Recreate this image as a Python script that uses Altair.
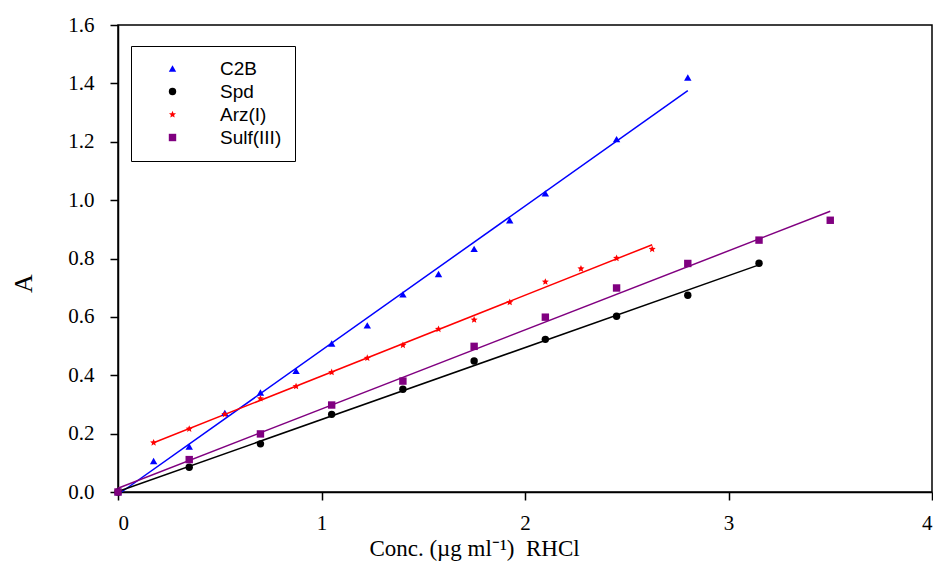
import altair as alt
import pandas as pd

STAR = ("M0,-1L0.2645,-0.364L0.951,-0.309L0.428,0.139L0.588,0.809L0,0.45"
        "L-0.588,0.809L-0.428,0.139L-0.951,-0.309L-0.2645,-0.364Z")

series_names = ["C2B", "Spd", "Arz(I)", "Sulf(III)"]
series_colors = ["#0000FF", "#000000", "#FF0000", "#800080"]
series_shapes = ["triangle-up", "circle", STAR, "square"]
series_sizes = [55, 55, 150, 70]

c2b_x = [0, 0.175, 0.35, 0.525, 0.7, 0.875, 1.05, 1.225, 1.4, 1.575, 1.75, 1.925, 2.1, 2.45, 2.8]
c2b_y = [0.0, 0.106, 0.156, 0.271, 0.341, 0.415, 0.509, 0.571, 0.677, 0.747, 0.833, 0.931, 1.023, 1.209, 1.420]

spd_x = [0, 0.35, 0.7, 1.05, 1.4, 1.75, 2.1, 2.45, 2.8, 3.15]
spd_y = [0.0, 0.085, 0.165, 0.266, 0.352, 0.449, 0.523, 0.602, 0.674, 0.784]

arz_x = [0.175, 0.35, 0.525, 0.7, 0.875, 1.05, 1.225, 1.4, 1.575, 1.75, 1.925, 2.1, 2.275, 2.45, 2.625]
arz_y = [0.169, 0.216, 0.266, 0.320, 0.362, 0.410, 0.459, 0.503, 0.558, 0.590, 0.650, 0.720, 0.765, 0.801, 0.832]

sulf_x = [0, 0.35, 0.7, 1.05, 1.4, 1.75, 2.1, 2.45, 2.8, 3.15, 3.5]
sulf_y = [0.0, 0.111, 0.199, 0.298, 0.380, 0.499, 0.599, 0.699, 0.783, 0.863, 0.931]

x_ticks = [0, 1, 2, 3, 4]
y_ticks = [0.0, 0.2, 0.4, 0.6, 0.8, 1.0, 1.2, 1.4, 1.6]

rows = []
for name, xs, ys in [("C2B", c2b_x, c2b_y), ("Spd", spd_x, spd_y),
                     ("Arz(I)", arz_x, arz_y), ("Sulf(III)", sulf_x, sulf_y)]:
    for xv, yv in zip(xs, ys):
        rows.append({"series": name, "x": xv, "y": yv})
df = pd.DataFrame(rows)

serif = "Liberation Serif"

xenc = alt.X("x:Q", scale=alt.Scale(domain=[0, 4], nice=False, zero=False),
             axis=alt.Axis(values=x_ticks, format="d",
                           title="Conc. (\u00b5g ml\u207b\u00b9)\u00a0 RHCl",
                           titleX=356, titleY=63, titleAlign="center",
                           titleBaseline="alphabetic"))
yenc = alt.Y("y:Q", scale=alt.Scale(domain=[0, 1.6], nice=False, zero=False),
             axis=alt.Axis(values=y_ticks, format=".1f", title="A",
                           titleX=-95, titleY=258, titleAlign="center",
                           titleBaseline="middle"))

cscale = alt.Scale(domain=series_names, range=series_colors)
sscale = alt.Scale(domain=series_names, range=series_shapes)
zscale = alt.Scale(domain=series_names, range=series_sizes)

leg = alt.Legend(title=None, orient="none", legendX=13, legendY=21,
                 strokeColor="black", padding=13, rowPadding=3,
                 symbolOffset=19, labelOffset=38,
                 labelExpr="datum.label + '\u2003\u2003'",
                 labelFont="Liberation Sans", labelFontSize=19,
                 labelColor="black", symbolSize=35, fillColor="white")

lines = alt.Chart(df).transform_regression(
    "x", "y", groupby=["series"]
).mark_line(strokeWidth=1.5).encode(
    x=xenc, y=yenc,
    stroke=alt.Stroke("series:N", scale=cscale, legend=None),
)

points = alt.Chart(df).mark_point(filled=True, opacity=1).encode(
    x=xenc, y=yenc,
    color=alt.Color("series:N", scale=cscale, legend=leg),
    shape=alt.Shape("series:N", scale=sscale, legend=leg),
    size=alt.Size("series:N", scale=zscale, legend=None),
)

chart = alt.layer(lines, points).resolve_scale(stroke="independent").properties(
    width=814, height=467,
    autosize=alt.AutoSizeParams(type="none"),
    padding={"left": 110, "top": 17, "right": 1, "bottom": 73},
).configure_view(
    stroke="black", strokeWidth=1.5
).configure_axis(
    grid=False, domainColor="black", domainWidth=1.5, tickColor="black", tickWidth=1.5,
    tickSize=8, labelFont=serif, labelFontSize=21, labelColor="black",
    titleFont=serif, titleFontSize=23, titleColor="black", titleFontWeight="normal",
).configure_axisY(
    labelPadding=16, titleFontSize=26
).configure_axisX(
    labelPadding=12
)

chart.save("out.html", embed_options={"renderer": "svg", "actions": False})
